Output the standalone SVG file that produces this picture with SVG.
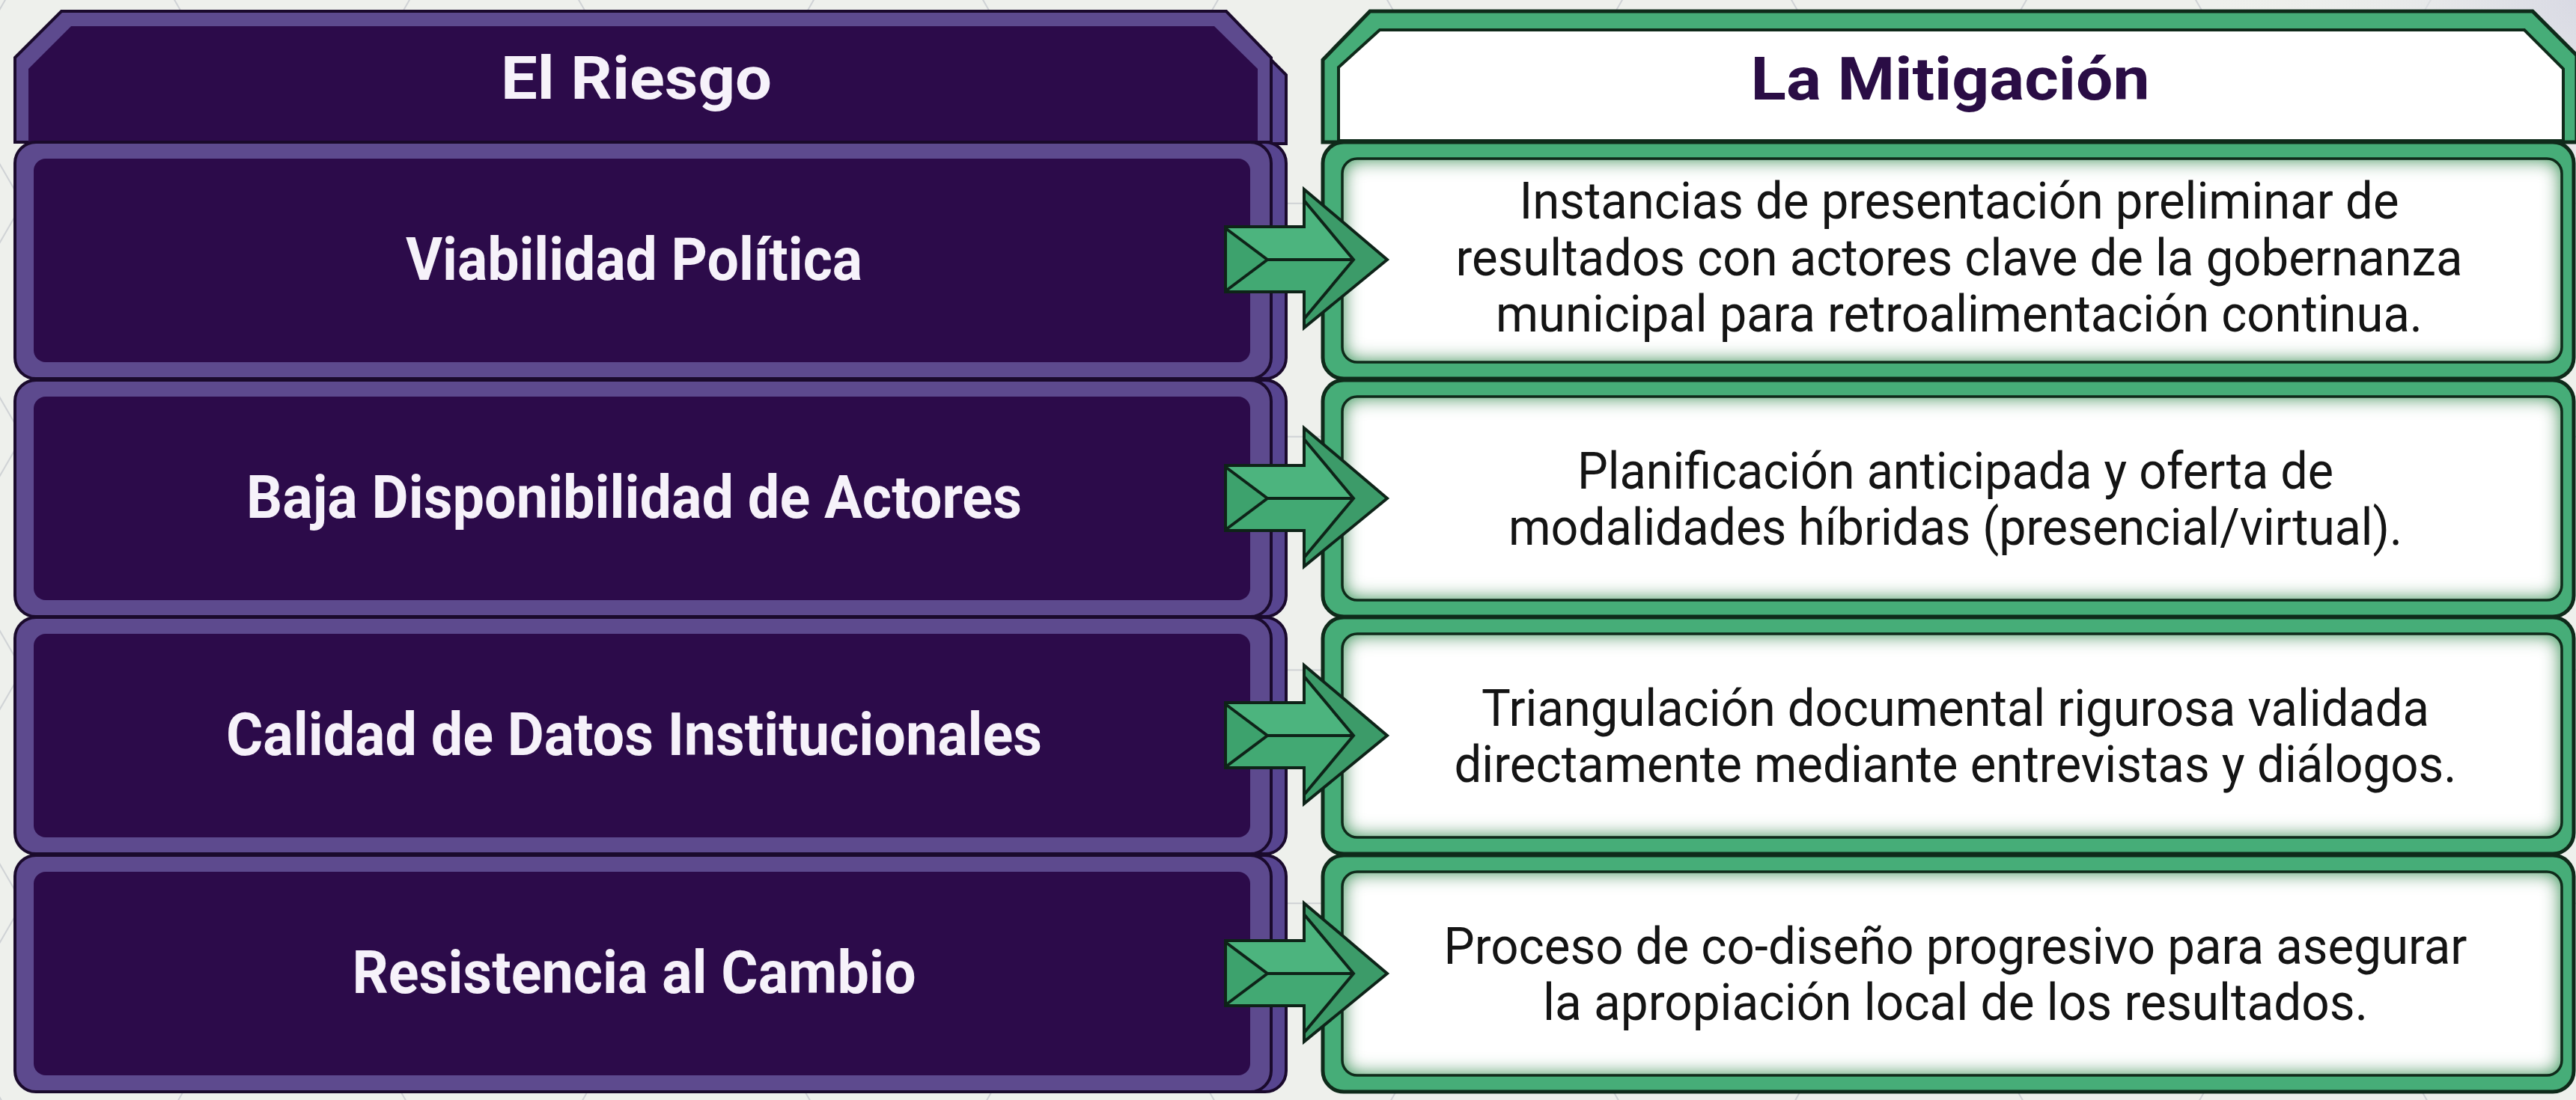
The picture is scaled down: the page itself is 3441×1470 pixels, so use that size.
<svg xmlns="http://www.w3.org/2000/svg" xmlns:xlink="http://www.w3.org/1999/xlink" width="3441" height="1470" viewBox="0 0 3441 1470">
<style>
.lband{fill:#5d4a8e;stroke:#1a0a2c;stroke-width:4}
.lside{fill:#574590;stroke:#1a0a2c;stroke-width:4}
.ldark{fill:#2c0b4a}
.gband{fill:#46ad78;stroke:#0f2a1a;stroke-width:5}
.gline{fill:none;stroke:#0f2a1a;stroke-width:3.5}
.wfill{fill:#ffffff}
.lt{font-family:Roboto,"Liberation Sans",sans-serif;font-weight:700;font-size:80px;fill:#f6f2fa;text-anchor:middle}
.rh{font-family:Roboto,"Liberation Sans",sans-serif;font-weight:700;font-size:80px;fill:#2a0d45;text-anchor:middle}
.rt{font-family:Roboto,"Liberation Sans",sans-serif;font-weight:400;font-size:68px;fill:#141414;text-anchor:middle}
</style>
<defs>
<pattern id="hex" patternUnits="userSpaceOnUse" width="540" height="311.8" x="-60" y="-40">
<path d="M0,155.9 L90,0 L270,0 L360,155.9 L270,311.8 L90,311.8 Z M360,155.9 L540,155.9" fill="none" stroke="#cfd2d5" stroke-width="2"/>
</pattern>
<radialGradient id="tr" cx="3441" cy="0" r="500" gradientUnits="userSpaceOnUse">
<stop offset="0" stop-color="#d9dae4"/>
<stop offset="1" stop-color="#eef0ec" stop-opacity="0"/>
</radialGradient>
<filter id="inset" x="-3%" y="-15%" width="106%" height="130%">
<feFlood flood-color="#37a86b" result="c"/>
<feComposite in="c" in2="SourceAlpha" operator="out" result="o"/>
<feGaussianBlur in="o" stdDeviation="13" result="b"/>
<feComposite in="b" in2="SourceAlpha" operator="in" result="i"/>
<feMerge><feMergeNode in="SourceGraphic"/><feMergeNode in="i"/><feMergeNode in="i"/></feMerge>
</filter>
<g id="arrow">
<polygon points="105,-94 216,0 105,91" fill="#3c9b69" stroke="#0e2318" stroke-width="4" stroke-linejoin="miter"/>
<polygon points="0,-44 105,-44 105,-79 171,0 0,0" fill="#4cb47e"/>
<polygon points="0,0 171,0 105,79 105,43 0,43" fill="#42a973"/>
<polygon points="0,-40 56,0 0,40" fill="#3da26d"/>
<polygon points="0,-44 105,-44 105,-79 171,0 105,79 105,43 0,43" fill="none" stroke="#0e2318" stroke-width="4" stroke-linejoin="miter"/>
<path d="M0,-42 L56,0 L0,42 M56,0 L171,0" fill="none" stroke="#0e2318" stroke-width="4"/>
</g>
</defs>
<rect x="0" y="0" width="3441" height="1470" fill="#eef0ec"/>
<rect x="0" y="0" width="3441" height="1470" fill="url(#hex)"/>
<rect x="2900" y="0" width="541" height="500" fill="url(#tr)"/>

<g id="risk-header">
<polygon class="lside" points="1680,62 1718,100 1718,192 1680,192"/>
<polygon class="lband" points="20,77 82,15 1638,15 1698,77 1698,190 20,190"/>
<polygon class="ldark" points="38,92 95,35 1622,35 1680,92 1680,190 38,190"/>
<text class="lt" x="850" y="132" textLength="362" lengthAdjust="spacingAndGlyphs">El Riesgo</text>
</g>
<g id="risk-1">
<rect class="lside" x="38" y="190" width="1680" height="316" rx="28"/>
<rect class="lband" x="20" y="190" width="1678" height="316" rx="28"/>
<rect class="ldark" x="45" y="212" width="1625" height="272" rx="16"/>
<text class="lt" x="847" y="374" textLength="610" lengthAdjust="spacingAndGlyphs">Viabilidad Política</text>
</g>
<g id="risk-2">
<rect class="lside" x="38" y="508" width="1680" height="316" rx="28"/>
<rect class="lband" x="20" y="508" width="1678" height="316" rx="28"/>
<rect class="ldark" x="45" y="530" width="1625" height="272" rx="16"/>
<text class="lt" x="847" y="692" textLength="1036" lengthAdjust="spacingAndGlyphs">Baja Disponibilidad de Actores</text>
</g>
<g id="risk-3">
<rect class="lside" x="38" y="825" width="1680" height="316" rx="28"/>
<rect class="lband" x="20" y="825" width="1678" height="316" rx="28"/>
<rect class="ldark" x="45" y="847" width="1625" height="272" rx="16"/>
<text class="lt" x="847" y="1009" textLength="1090" lengthAdjust="spacingAndGlyphs">Calidad de Datos Institucionales</text>
</g>
<g id="risk-4">
<rect class="lside" x="38" y="1143" width="1680" height="316" rx="28"/>
<rect class="lband" x="20" y="1143" width="1678" height="316" rx="28"/>
<rect class="ldark" x="45" y="1165" width="1625" height="272" rx="16"/>
<text class="lt" x="847" y="1327" textLength="753" lengthAdjust="spacingAndGlyphs">Resistencia al Cambio</text>
</g>

<g id="mitigation-header">
<polygon class="gband" points="1767,80 1830,15 3383,15 3442,74 3442,190 1767,190"/>
<polygon class="wfill" points="1788,90 1843,40 3372,40 3424,92 3424,188 1788,188" stroke="#0f2a1a" stroke-width="4"/>
<text class="rh" x="2605" y="133" textLength="533" lengthAdjust="spacingAndGlyphs">La Mitigación</text>
</g>
<g id="mitigation-1">
<rect class="gband" x="1767" y="190" width="1671" height="316" rx="28"/>
<rect class="wfill" filter="url(#inset)" x="1793" y="212" width="1629" height="272" rx="20"/>
<rect class="gline" x="1793" y="212" width="1629" height="272" rx="20"/>
<text class="rt" x="2617" y="292" textLength="1175" lengthAdjust="spacingAndGlyphs">Instancias de presentación preliminar de</text>
<text class="rt" x="2617" y="368" textLength="1345" lengthAdjust="spacingAndGlyphs">resultados con actores clave de la gobernanza</text>
<text class="rt" x="2617" y="443" textLength="1238" lengthAdjust="spacingAndGlyphs">municipal para retroalimentación continua.</text>
</g>
<g id="mitigation-2">
<rect class="gband" x="1767" y="508" width="1671" height="316" rx="28"/>
<rect class="wfill" filter="url(#inset)" x="1793" y="530" width="1629" height="272" rx="20"/>
<rect class="gline" x="1793" y="530" width="1629" height="272" rx="20"/>
<text class="rt" x="2612" y="653" textLength="1010" lengthAdjust="spacingAndGlyphs">Planificación anticipada y oferta de</text>
<text class="rt" x="2612" y="728" textLength="1194" lengthAdjust="spacingAndGlyphs">modalidades híbridas (presencial/virtual).</text>
</g>
<g id="mitigation-3">
<rect class="gband" x="1767" y="825" width="1671" height="316" rx="28"/>
<rect class="wfill" filter="url(#inset)" x="1793" y="847" width="1629" height="272" rx="20"/>
<rect class="gline" x="1793" y="847" width="1629" height="272" rx="20"/>
<text class="rt" x="2612" y="970" textLength="1266" lengthAdjust="spacingAndGlyphs">Triangulación documental rigurosa validada</text>
<text class="rt" x="2612" y="1045" textLength="1339" lengthAdjust="spacingAndGlyphs">directamente mediante entrevistas y diálogos.</text>
</g>
<g id="mitigation-4">
<rect class="gband" x="1767" y="1143" width="1671" height="316" rx="28"/>
<rect class="wfill" filter="url(#inset)" x="1793" y="1165" width="1629" height="272" rx="20"/>
<rect class="gline" x="1793" y="1165" width="1629" height="272" rx="20"/>
<text class="rt" x="2612" y="1288" textLength="1367" lengthAdjust="spacingAndGlyphs">Proceso de co-diseño progresivo para asegurar</text>
<text class="rt" x="2612" y="1363" textLength="1102" lengthAdjust="spacingAndGlyphs">la apropiación local de los resultados.</text>
</g>

<g id="connectors">
<use xlink:href="#arrow" href="#arrow" x="1637" y="347"/>
<use xlink:href="#arrow" href="#arrow" x="1637" y="666"/>
<use xlink:href="#arrow" href="#arrow" x="1637" y="983"/>
<use xlink:href="#arrow" href="#arrow" x="1637" y="1301"/>
</g>
</svg>
